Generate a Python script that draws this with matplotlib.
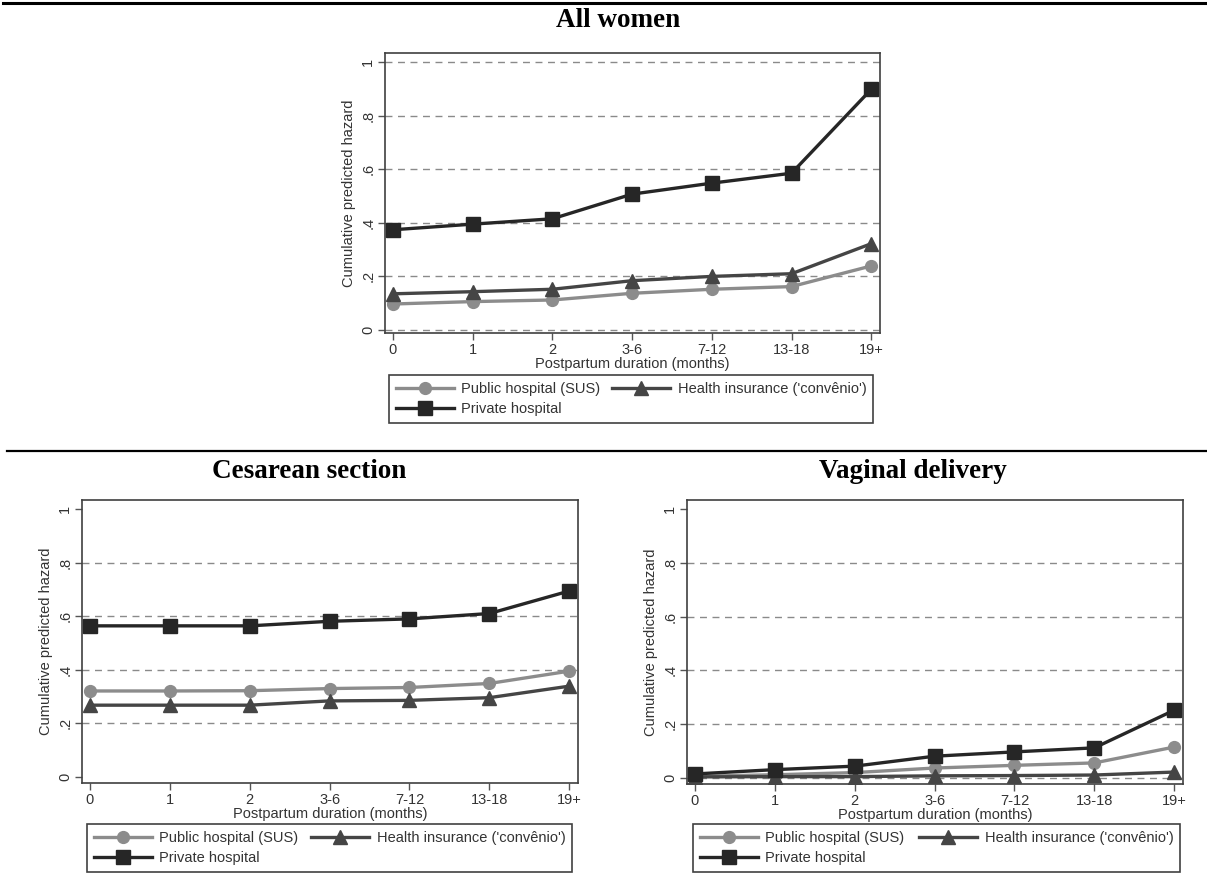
import numpy as np
import matplotlib.pyplot as plt
from matplotlib.lines import Line2D

W, H = 1207, 875

durations = ["0", "1", "2", "3-6", "7-12", "13-18", "19+"]
series_names = ["Public hospital (SUS)", "Health insurance ('convênio')", "Private hospital"]

# all women
all_public = [0.097, 0.106, 0.112, 0.137, 0.152, 0.162, 0.239]
all_insurance = [0.135, 0.143, 0.152, 0.184, 0.200, 0.210, 0.322]
all_private = [0.374, 0.395, 0.415, 0.507, 0.548, 0.585, 0.898]

# cesarean section
ces_public = [0.321, 0.321, 0.322, 0.330, 0.334, 0.349, 0.395]
ces_insurance = [0.268, 0.268, 0.268, 0.284, 0.286, 0.296, 0.339]
ces_private = [0.564, 0.564, 0.564, 0.581, 0.590, 0.610, 0.694]

# vaginal delivery
vag_public = [0.006, 0.012, 0.020, 0.037, 0.047, 0.056, 0.115]
vag_insurance = [0.004, 0.005, 0.005, 0.008, 0.009, 0.011, 0.022]
vag_private = [0.015, 0.031, 0.044, 0.081, 0.097, 0.112, 0.252]

yticks = [0, 0.2, 0.4, 0.6, 0.8, 1.0]
ytick_labels = ["0", ".2", ".4", ".6", ".8", "1"]

colors = ["#8c8c8c", "#454545", "#262626"]
markers = ["o", "^", "s"]
msizes = [8.5, 10, 9.5]

plt.rcParams['font.family'] = ['Liberation Sans', 'DejaVu Sans']


def box(l, t, r, b):
    return [l / W, 1 - b / H, (r - l) / W, (b - t) / H]


def panel(fig, rect, series, grid_vals, ylim):
    ax = fig.add_axes(rect)
    x = np.arange(len(durations))
    for vals, c, m, ms in zip(series, colors, markers, msizes):
        ax.plot(x, vals, color=c, marker=m, markersize=ms, linewidth=2.4, zorder=3)
    for g in grid_vals:
        ax.axhline(g, color="#8a8a8a", linestyle=(0, (5, 4)), linewidth=1.0, zorder=1)
    ax.set_xlim(-0.1, 6.11)
    ax.set_ylim(*ylim)
    ax.set_xticks(x)
    ax.set_xticklabels(durations, fontsize=10.5, color="#333333")
    ax.set_yticks(yticks)
    ax.set_yticklabels(ytick_labels, fontsize=10.5, color="#333333", rotation=90, va="center")
    ax.tick_params(length=5, width=1, color="#555555", pad=2)
    for s in ax.spines.values():
        s.set_color("#404040")
        s.set_linewidth(1.2)
    ax.set_xlabel("Postpartum duration (months)", fontsize=10.5, color="#333333", labelpad=0.5)
    ax.set_ylabel("Cumulative predicted hazard", fontsize=10.5, color="#333333", labelpad=4)
    return ax


def legend(fig, l, t, r):
    handles = [Line2D([], [], color=c, marker=m, markersize=ms, linewidth=2.4)
               for c, m, ms in zip(colors, markers, msizes)]
    # reorder so the entries fill row by row
    order = [0, 2, 1]
    leg = fig.legend([handles[i] for i in order], [series_names[i] for i in order],
                     loc="upper left", bbox_to_anchor=(l / W, 1 - t / H, (r - l) / W, 0.01),
                     mode="expand", ncol=2, fontsize=10.5, frameon=True, fancybox=False,
                     handlelength=4.0, handletextpad=0.5, borderpad=0.45, labelspacing=0.45,
                     columnspacing=1.2, borderaxespad=0)
    leg.get_frame().set_edgecolor("#111111")
    leg.get_frame().set_linewidth(1.2)
    for t_ in leg.get_texts():
        t_.set_color("#333333")


fig = plt.figure(figsize=(W / 100, H / 100), dpi=100)

panel(fig, box(385, 53, 880, 333), [all_public, all_insurance, all_private],
      yticks, (-3 / 268, 1 + 9 / 268))
legend(fig, 389, 384, 873)

panel(fig, box(82, 500, 578, 783), [ces_public, ces_insurance, ces_private],
      yticks[1:5], (-6 / 268, 1 + 9 / 268))
legend(fig, 87, 833, 572)

panel(fig, box(687, 500, 1183, 784), [vag_public, vag_insurance, vag_private],
      yticks[0:5], (-6 / 268, 1 + 9 / 268))
legend(fig, 693, 833, 1180)

title_kw = dict(fontsize=19.5, fontweight="bold", family=["Liberation Serif", "DejaVu Serif"],
                ha="center", va="baseline")
fig.text(618 / W, 1 - 27 / H, "All women", **title_kw)
fig.text(309 / W, 1 - 478 / H, "Cesarean section", **title_kw)
fig.text(913 / W, 1 - 478 / H, "Vaginal delivery", **title_kw)

fig.add_artist(Line2D([3 / W, 1], [1 - 3 / H, 1 - 3 / H], color="black", linewidth=2.2))
fig.add_artist(Line2D([7 / W, 1], [1 - 451 / H, 1 - 451 / H], color="black", linewidth=1.6))

fig.savefig("out.png", dpi=100)
